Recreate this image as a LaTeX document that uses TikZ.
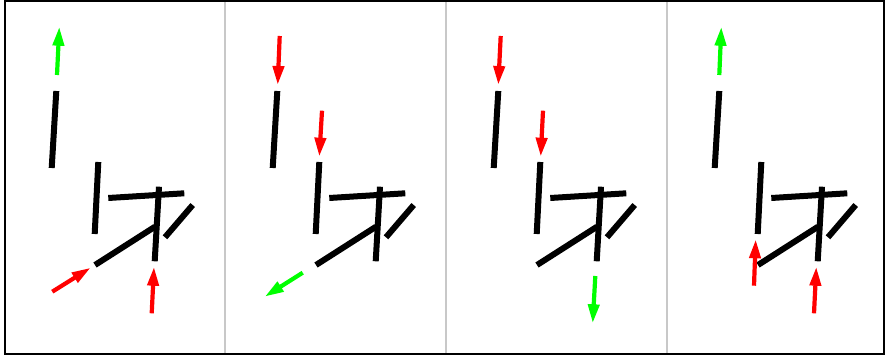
\documentclass[tikz,border=0pt]{standalone}
\usetikzlibrary{arrows.meta}
\definecolor{gbright}{RGB}{0,255,0}
\definecolor{rbright}{RGB}{255,0,0}
\definecolor{divgray}{RGB}{200,200,200}
\tikzset{
  strokeline/.style={line width=6pt,black,line cap=butt},
  dirarrow/.style={line width=4.2pt,-{Triangle[length=19pt,width=11pt]}},
  redarrow/.style={dirarrow,rbright},
  greenarrow/.style={dirarrow,gbright},
  divider/.style={divgray,line width=1.5pt},
  frame/.style={black,line width=2pt}
}
\begin{document}
\begin{tikzpicture}[x=1pt,y=-1pt]
\useasboundingbox (0,0) rectangle (885,355);
\fill[white] (0,0) rectangle (885,355);
% dividers
\foreach \dx in {225,446,667}{
  \draw[divider] (\dx,1) -- (\dx,353);
}
% strokes in each panel
\foreach \o in {0,221,442,663}{
  \begin{scope}[xshift=\o pt]
    \draw[strokeline] (56.3,91) -- (51.7,168);
    \draw[strokeline] (98.3,162) -- (94.7,234);
    \draw[strokeline] (108.3,198) -- (184.3,193.3);
    \draw[strokeline] (159,186.7) -- (154.7,261.3);
    \draw[strokeline] (95,265) -- (155,226.7);
    \draw[strokeline] (192.7,205) -- (165,237.3);
  \end{scope}
}
% panel 1
\draw[greenarrow] (57,75) -- (59.3,26.7);
\draw[redarrow] (52.3,291.7) -- (90.7,267.7);
\draw[redarrow] (151.7,313.3) -- (154,266.7);
% panel 2
\draw[redarrow] (279.7,36) -- (277.7,85);
\draw[redarrow] (322,110.7) -- (319.3,156.7);
\draw[greenarrow] (302.7,272.7) -- (264.7,296.7);
% panel 3
\draw[redarrow] (500.7,36) -- (498.3,85);
\draw[redarrow] (543,110.7) -- (540.7,156.7);
\draw[greenarrow] (595.3,276) -- (592.7,323.3);
% panel 4
\draw[greenarrow] (719.3,75) -- (721.3,26.7);
\draw[redarrow] (754,285.7) -- (755.7,239.3);
\draw[redarrow] (814,313.3) -- (816.3,266.7);
% frame
\draw[frame] (4.5,1.2) rectangle (884,353.5);
\end{tikzpicture}
\end{document}
